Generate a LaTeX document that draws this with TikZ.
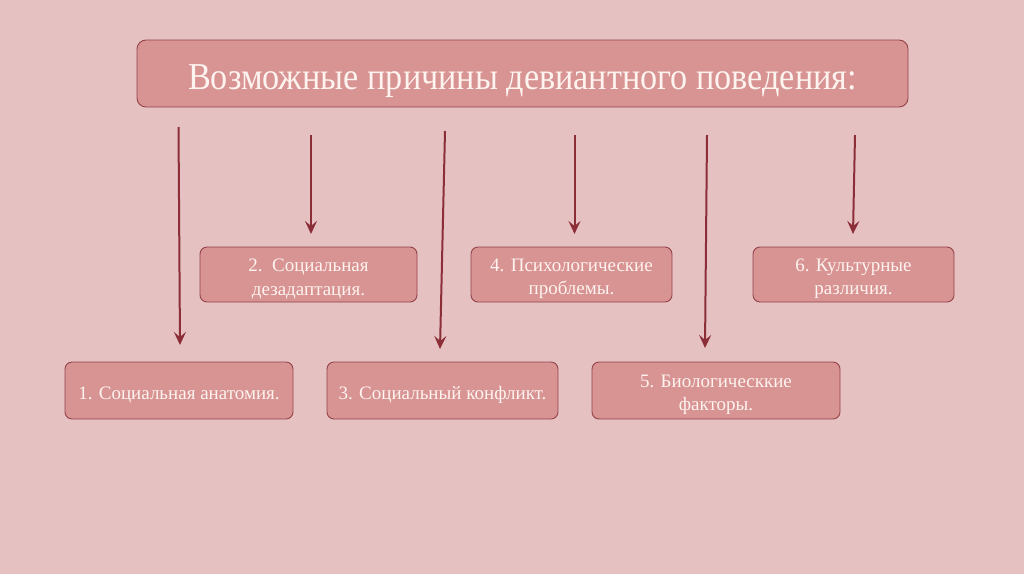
\documentclass[tikz,border=0pt]{standalone}
\usepackage{fontspec}
\setmainfont{Liberation Serif}
\usetikzlibrary{arrows.meta}
\definecolor{bgc}{HTML}{E6C1C1}
\definecolor{boxfill}{HTML}{D89393}
\definecolor{boxline}{HTML}{94434A}
\definecolor{arrc}{HTML}{8C2E37}
\definecolor{txt}{HTML}{FDF3EF}
\newcommand{\firstline}{\rule{0pt}{21.5pt}}
\tikzset{
  x=1pt, y=-1pt,
  causebox/.style={draw=boxline, line width=0.9pt, fill=boxfill, rounded corners=7pt,
    text=txt, font=\fontsize{19}{23.5}\selectfont, align=center, inner sep=0pt},
  arr/.style={draw=arrc, line width=2pt, -{Stealth[length=13pt,width=12pt,inset=5pt]}},
}
\begin{document}
\begin{tikzpicture}
\fill[bgc] (0,0) rectangle (1024,574);
\useasboundingbox (0,0) rectangle (1024,574);
\node[causebox, minimum width=771pt, minimum height=67pt, rounded corners=9pt,
  font=\fontsize{38}{44}\selectfont, execute at begin node={\rule{0pt}{40pt}}] (title) at (522.5,73.5)
  {\scalebox{0.9}[1]{Возможные причины девиантного поведения:}};
\node[causebox, minimum width=217pt, minimum height=55pt] (b2) at (308.5,274.5) {\firstline 2.\ \ Социальная\\дезадаптация.};
\node[causebox, minimum width=201pt, minimum height=55pt] (b4) at (571.5,274.5) {\firstline 4. Психологические\\проблемы.};
\node[causebox, minimum width=201pt, minimum height=55pt] (b6) at (853.5,274.5) {\firstline 6. Культурные\\различия.};
\node[causebox, minimum width=228pt, minimum height=57pt] (b1) at (179,390.5) {\firstline 1. Социальная анатомия.};
\node[causebox, minimum width=231pt, minimum height=57pt] (b3) at (442.5,390.5) {\firstline 3. Социальный конфликт.};
\node[causebox, minimum width=248pt, minimum height=57pt] (b5) at (716,390.5) {\firstline 5. Биологическкие\\факторы.};
\coordinate (s1) at (178.5,127); \coordinate (e1) at (180,345);
\coordinate (s2) at (311,135);   \coordinate (e2) at (311,234);
\coordinate (s3) at (445,131);   \coordinate (e3) at (440,349);
\coordinate (s4) at (574.5,135); \coordinate (e4) at (574.5,234);
\coordinate (s5) at (707,135);   \coordinate (e5) at (705,348);
\coordinate (s6) at (855,135);   \coordinate (e6) at (853,234);
\foreach \i in {1,...,6} \draw[arr] (s\i) -- (e\i);
\end{tikzpicture}
\end{document}
